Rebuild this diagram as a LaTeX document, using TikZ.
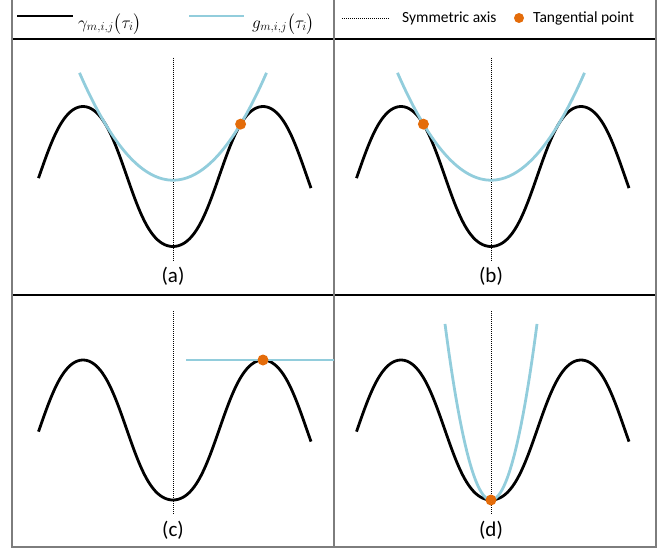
\documentclass[tikz,border=0pt]{standalone}
\usepackage{amsmath}
\usepackage{fontspec}
\setmainfont{Carlito}
\definecolor{curveblue}{RGB}{146,205,220}
\definecolor{dotorange}{RGB}{228,108,10}
\definecolor{rulegray}{RGB}{125,125,125}
% slightly warped cosine
\pgfmathdeclarefunction{gam}{1}{%
  \pgfmathparse{70-70*cos(2*#1-5*sin(4*#1)-2.5*sin(2*#1))}}

\begin{document}
\begin{tikzpicture}[x=1pt,y=-1pt,
  costline/.style={line width=2.8pt,black},
  fitline/.style={line width=2.8pt,curveblue},
  axisline/.style={line width=0.9pt,dash pattern=on 1pt off 1pt},
  tangdot/.style={fill=dotorange},
  vrule/.style={line width=2pt,rulegray},
  hrule/.style={line width=1.2pt,black},
  panelname/.style={font=\fontsize{21}{24}\selectfont},
  keytext/.style={anchor=west,inner sep=0pt,font=\fontsize{15.5}{18}\selectfont},
  keymath/.style={keytext,font=\fontsize{17.5}{20}\selectfont}]
  \useasboundingbox (0,0) rectangle (671,551);
  % table rules
  \draw[hrule] (12,39) -- (656,39);
  \draw[hrule] (12,295) -- (656,295);
  \draw[vrule] (12,547) -- (656,547);
  \foreach \vx in {12,334,656}
    \draw[vrule] (\vx,0) -- (\vx,548);
  % legend
  \coordinate (k1a) at (17,16);  \coordinate (k1b) at (73,16);
  \coordinate (k2a) at (189,16); \coordinate (k2b) at (244,16);
  \coordinate (k3a) at (342,18); \coordinate (k3b) at (389,18);
  \draw[costline] (k1a) -- (k1b);
  \draw[fitline] (k2a) -- (k2b);
  \draw[axisline] (k3a) -- (k3b);
  \node[keymath] (kgam) at (78,24) {$\gamma_{m,i,j}\bigl(\tau_i\bigr)$};
  \node[keymath] (kfit) at (252,24) {$g_{m,i,j}\bigl(\tau_i\bigr)$};
  \node[keytext] (kaxis) at (402,18) {Symmetric axis};
  \fill[tangdot] (519,18) circle[radius=5];
  \node[keytext] (kdot) at (533,18) {Tangential point};
  % panels: black curve, axis, caption
  \foreach \cx/\cy/\lbl in {173/246.5/a,491/246.5/b,173/500/c,491/500/d}{
    \begin{scope}[shift={(\cx,\cy)}]
      \draw[costline] plot[domain=-134.5:138,samples=120,smooth] (\x,{-gam(\x)});
      \draw[axisline] (0,-189) -- (0,14);
      \node[panelname] (cap\lbl) at (0,30) {(\lbl)};
    \end{scope}
  }
  % (a) and (b): wide parabola
  \begin{scope}[shift={(173,246.5)}]
    \draw[fitline] plot[domain=-93.5:93.5,samples=60,smooth] (\x,{-(66.3+0.01228*\x*\x)});
    \fill[tangdot] (67.6,{-gam(67.6)}) circle[radius=5.5];
  \end{scope}
  \begin{scope}[shift={(491,246.5)}]
    \draw[fitline] plot[domain=-93.5:93.5,samples=60,smooth] (\x,{-(66.3+0.01228*\x*\x)});
    \fill[tangdot] (-67.6,{-gam(67.6)}) circle[radius=5.5];
  \end{scope}
  % (c): flat line on the crest
  \coordinate (crest) at (263,360);
  \coordinate (cend) at (334,360);
  \draw[fitline] (186,360) -- (cend);
  \fill[tangdot] (crest) circle[radius=5.5];
  % (d): narrow parabola
  \begin{scope}[shift={(491,500)}]
    \draw[fitline] plot[domain=-46:46,samples=60,smooth] (\x,{-0.0832*\x*\x});
    \fill[tangdot] (0,0) circle[radius=5.5];
  \end{scope}
\end{tikzpicture}
\end{document}
